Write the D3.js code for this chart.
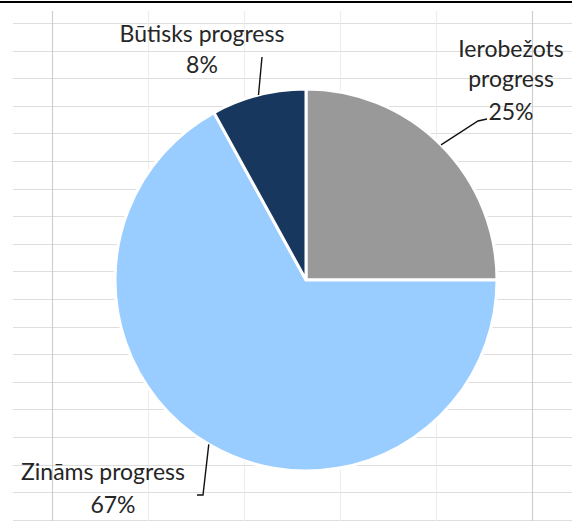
<!DOCTYPE html>
<html>
<head>
<meta charset="utf-8">
<script src="https://cdn.jsdelivr.net/npm/d3@7"></script>
<style>
  html, body { margin: 0; padding: 0; background: #fff; }
  svg { display: block; }
</style>
</head>
<body>
<svg id="chart" width="572" height="521"></svg>
<script>
// ---- data ----
const categories = ["Ierobežots progress", "Zināms progress", "Būtisks progress"];
const values = [25, 67, 8];
const percentLabels = ["25%", "67%", "8%"];
const colors = ["#999999", "#99CCFF", "#17375E"];

const W = 572, H = 521;
const svg = d3.select("#chart");

// background spreadsheet grid
const grid = svg.append("g");
for (let y = 23; y < H; y += 27.6) {
  grid.append("line").attr("x1", 13).attr("x2", W).attr("y1", Math.round(y) + 0.5).attr("y2", Math.round(y) + 0.5)
    .attr("stroke", "#dedede").attr("stroke-width", 1);
}
for (let i = 0, x = 52; x < W; x += 96, i++) {
  grid.append("line").attr("x1", x + 0.5).attr("x2", x + 0.5).attr("y1", 11).attr("y2", H)
    .attr("stroke", (i === 0 || i === 5) ? "#cfcfcf" : "#ededed").attr("stroke-width", 1.2);
}
// top border
svg.append("line").attr("x1", 0).attr("x2", W).attr("y1", 2).attr("y2", 2)
  .attr("stroke", "#000").attr("stroke-width", 2);

// pie
const cx = 306, cy = 280, R = 191;
const pie = d3.pie().sort(null).value(d => d).startAngle(0).endAngle(2 * Math.PI);
const arcs = pie(values);
const arc = d3.arc().innerRadius(0).outerRadius(R);
const edge = d3.arc().innerRadius(R).outerRadius(R);

const g = svg.append("g").attr("transform", `translate(${cx},${cy})`);
g.selectAll("path.slice").data(arcs).enter().append("path")
  .attr("class", "slice")
  .attr("d", arc)
  .attr("fill", (d, i) => colors[i])
  .attr("stroke", "#fff")
  .attr("stroke-width", 3)
  .attr("stroke-linejoin", "miter");

// label layout (relative to pie centre): text anchor, line baselines, leader elbow/end
const layout = [
  { x: 205, lines: [-223, -193, -160], leader: [[172, -159], [181, -161]] },
  { x: -203, lines: [200, 233], dxs: [0, 10], leader: [[-103, 215], [-109, 215]] },
  { x: -104, lines: [-238, -207], leader: [[-44, -223]] }
];

const labelG = svg.append("g").attr("transform", `translate(${cx},${cy})`);
arcs.forEach((d, i) => {
  const L = layout[i];
  const start = edge.centroid(d);
  const pts = [start].concat(L.leader);
  labelG.append("path")
    .attr("d", d3.line()(pts))
    .attr("fill", "none").attr("stroke", "#111").attr("stroke-width", 1.4);

  let textLines;
  if (i === 0) textLines = ["Ierobežots", "progress", percentLabels[i]];
  else textLines = [categories[i], percentLabels[i]];
  const t = labelG.append("text")
    .attr("text-anchor", "middle")
    .attr("font-family", "Lato, 'Open Sans', sans-serif")
    .attr("font-size", 23)
    .attr("fill", "#262626");
  textLines.forEach((s, k) => {
    t.append("tspan").attr("x", L.x + (L.dxs ? L.dxs[k] : 0)).attr("y", L.lines[k]).text(s);
  });
});
</script>
</body>
</html>
